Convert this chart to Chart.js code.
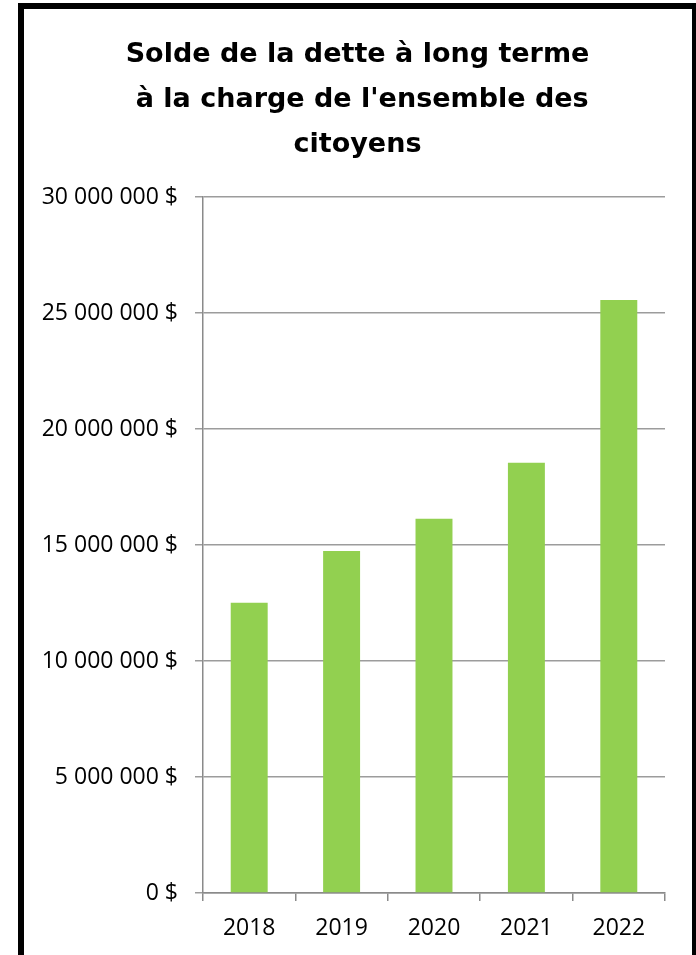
<!DOCTYPE html>
<html>
<head>
<meta charset="utf-8">
<script src="https://cdn.jsdelivr.net/npm/chart.js@4.4.0/dist/chart.umd.min.js"></script>
<style>
  html, body { margin: 0; padding: 0; background: #fff; overflow: hidden; }
  #wrap { position: relative; width: 696px; height: 955px; }
  #frame { position: absolute; left: 18px; top: 3px; width: 668px; height: 1000px; border: 6px solid #000; box-sizing: content-box; }
  canvas { position: absolute; left: 0; top: 0; }
</style>
</head>
<body>
<div id="wrap">
  <div id="frame"></div>
  <canvas id="c" width="696" height="955"></canvas>
</div>
<script>
const titleLines = ["Solde de la dette à long terme", " à la charge de l'ensemble des", "citoyens"];
const years = ["2018", "2019", "2020", "2021", "2022"];
const debtValues = [12510000, 14740000, 16130000, 18550000, 25560000];
const yTickLabels = ["0 $", "5 000 000 $", "10 000 000 $", "15 000 000 $", "20 000 000 $", "25 000 000 $", "30 000 000 $"];

const gridGray = '#9c9c9c';
const axisGray = '#8a8a8a';

const titleShift = {
  id: 'titleShift',
  afterLayout(chart) {
    const t = chart.titleBlock;
    if (t) { t.left += 10; t.right += 10; }
  }
};

new Chart(document.getElementById('c'), {
  type: 'bar',
  data: {
    labels: years,
    datasets: [{
      data: debtValues,
      backgroundColor: '#92D050',
      borderWidth: 0,
      barPercentage: 0.4,
      categoryPercentage: 1.0
    }]
  },
  plugins: [titleShift],
  options: {
    responsive: false,
    animation: false,
    devicePixelRatio: 1,
    layout: { padding: { left: 30, right: 31, top: 0, bottom: 0 } },
    plugins: {
      legend: { display: false },
      tooltip: { enabled: false },
      title: {
        display: true,
        text: titleLines,
        color: '#000',
        font: { family: 'DejaVu Sans', size: 27, weight: 'bold', lineHeight: '45px' },
        padding: { top: 32, bottom: 30 }
      }
    },
    scales: {
      x: {
        afterFit: (s) => { s.height = 62; },
        grid: { display: true, drawOnChartArea: false, drawTicks: true, tickLength: 8, color: axisGray, lineWidth: 1.5, offset: true },
        border: { display: true, color: axisGray, width: 1.5 },
        ticks: { color: '#000', font: { family: 'Open Sans', size: 23 }, padding: 14, maxRotation: 0 }
      },
      y: {
        min: 0,
        max: 30000000,
        afterFit: (s) => { s.width = 173; },
        grid: { display: true, drawOnChartArea: true, drawTicks: true, tickLength: 8, color: gridGray, lineWidth: 1.5 },
        border: { display: true, color: axisGray, width: 1.5 },
        ticks: {
          stepSize: 5000000,
          color: '#000',
          font: { family: 'Open Sans', size: 23 },
          padding: 17,
          callback: (v, i) => yTickLabels[i]
        }
      }
    }
  }
});
</script>
</body>
</html>
